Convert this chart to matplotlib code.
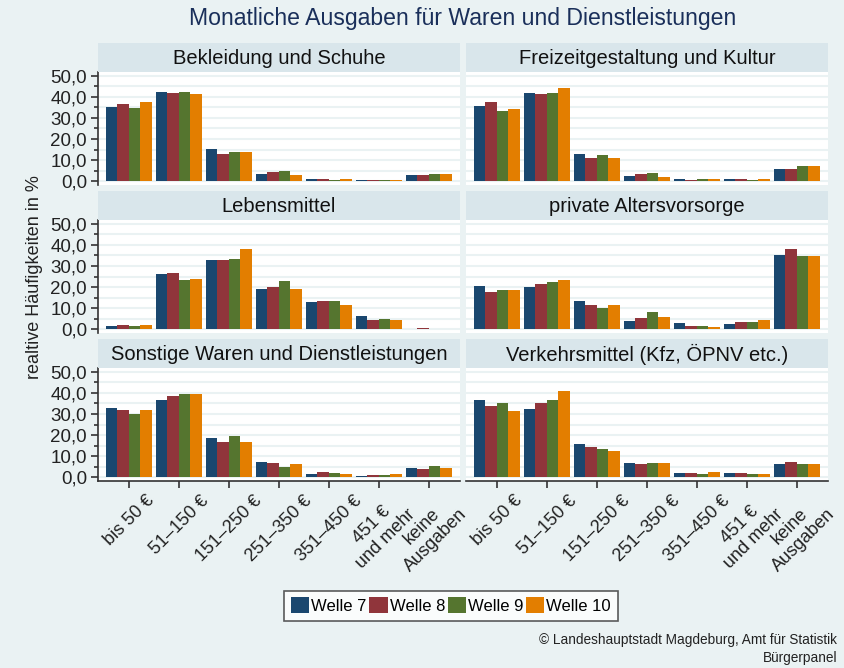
import numpy as np
import matplotlib
matplotlib.use("Agg")
import matplotlib.pyplot as plt
from matplotlib.patches import Patch

plt.rcParams['font.family'] = ['Liberation Sans', 'DejaVu Sans']

# Daten (relative Häufigkeiten in %)
categories = ["bis 50 €", "51–150 €", "151–250 €", "251–350 €", "351–450 €",
              "451 €\nund mehr", "keine\nAusgaben"]
waves = ["Welle 7", "Welle 8", "Welle 9", "Welle 10"]

bekleidung = [[35.2, 42.4, 15.2, 3.3, 1.0, 0.5, 2.9],
              [36.7, 41.9, 12.9, 4.3, 1.0, 0.5, 2.9],
              [34.8, 42.4, 13.8, 4.8, 0.5, 0.5, 3.3],
              [37.6, 41.4, 13.8, 2.9, 1.0, 0.5, 3.3]]
freizeit = [[35.7, 41.9, 12.9, 2.4, 1.0, 1.0, 5.7],
            [37.6, 41.4, 11.0, 3.3, 0.5, 1.0, 5.7],
            [33.3, 41.9, 12.4, 3.8, 1.0, 0.5, 7.1],
            [34.3, 44.3, 11.0, 1.9, 1.0, 1.0, 7.1]]
lebensmittel = [[1.6, 26.1, 32.9, 18.9, 12.7, 6.4, 0.2],
                [2.1, 26.6, 32.9, 19.9, 13.1, 4.5, 0.6],
                [1.6, 23.2, 33.3, 22.8, 13.1, 5.0, 0.2],
                [2.1, 23.7, 38.1, 18.9, 11.2, 4.5, 0.2]]
altersvorsorge = [[20.4, 19.9, 13.1, 4.0, 3.0, 2.6, 35.3],
                  [17.5, 21.3, 11.2, 5.4, 1.6, 3.5, 38.1],
                  [18.4, 22.3, 9.8, 7.9, 1.6, 3.5, 34.8],
                  [18.4, 23.2, 11.2, 5.9, 1.1, 4.5, 34.8]]
sonstige = [[32.9, 36.8, 18.4, 7.3, 1.5, 0.5, 4.4],
            [31.9, 38.7, 16.9, 6.8, 2.4, 1.0, 3.9],
            [30.0, 39.7, 19.4, 4.8, 1.9, 1.0, 5.3],
            [31.9, 39.7, 16.5, 6.3, 1.5, 1.5, 4.4]]
verkehr = [[36.8, 32.4, 15.5, 6.8, 1.9, 1.9, 6.3],
           [33.9, 35.3, 14.5, 6.3, 1.9, 1.9, 7.3],
           [35.3, 36.8, 13.5, 6.8, 1.5, 1.5, 6.3],
           [31.5, 41.1, 12.6, 6.8, 2.4, 1.5, 6.3]]

panels = [("Bekleidung und Schuhe", bekleidung),
          ("Freizeitgestaltung und Kultur", freizeit),
          ("Lebensmittel", lebensmittel),
          ("private Altersvorsorge", altersvorsorge),
          ("Sonstige Waren und Dienstleistungen", sonstige),
          ("Verkehrsmittel (Kfz, ÖPNV etc.)", verkehr)]

colors = ["#1a476f", "#90353b", "#55752f", "#e37e00"]
bg = "#eaf2f3"
strip_bg = "#d9e6eb"

W, H = 845, 668
fig = plt.figure(figsize=(W / 100, H / 100), dpi=100, facecolor=bg)

def box(x0, y0, x1, y1):
    return [x0 / W, 1 - y1 / H, (x1 - x0) / W, (y1 - y0) / H]

cols = [(98, 460), (466, 828)]
rows = [(72, 185), (220, 333), (368, 481)]
x = np.arange(len(categories))
bw = 0.23

for k, (name, vals) in enumerate(panels):
    r, c = divmod(k, 2)
    x0, x1 = cols[c]
    y0, y1 = rows[r]
    ax = fig.add_axes(box(x0, y0, x1, y1))
    ax.set_facecolor("white")
    for j, v in enumerate(vals):
        ax.bar(x + (j - 1.5) * bw, v, width=bw, color=colors[j], linewidth=0, zorder=3)
    ax.set_xlim(-0.62, 6.62)
    ax.set_ylim(-1.9, 51.9)
    ax.set_yticks(np.arange(0, 51, 10))
    ax.set_yticks(np.arange(0, 51, 5), minor=True)
    ax.grid(True, which="both", axis="y", color=bg, linewidth=1.5, zorder=0)
    for s in ["top", "right"]:
        ax.spines[s].set_visible(False)
    ax.spines["left"].set_color("#333333")
    ax.spines["bottom"].set_color("#333333")
    ax.spines["left"].set_linewidth(1.2)
    ax.spines["bottom"].set_linewidth(1.2)
    if c == 0:
        ax.set_yticklabels([f"{t:.1f}".replace(".", ",") for t in range(0, 51, 10)],
                           fontsize=13.5, color="#222222")
        ax.tick_params(axis="y", which="major", length=5, width=1.2, color="#333333", pad=3)
        ax.tick_params(axis="y", which="minor", length=3, width=1.2, color="#333333")
    else:
        ax.spines["left"].set_visible(False)
        ax.tick_params(axis="y", which="both", length=0, labelleft=False)
    if r == 2:
        ax.set_xticks(x)
        ax.set_xticklabels(categories, rotation=45, ha="center", va="top",
                           multialignment="center", fontsize=13, color="#222222")
        ax.tick_params(axis="x", length=5, width=1.2, color="#333333", pad=3)
    else:
        ax.spines["bottom"].set_visible(False)
        ax.set_xticks([])

    # Streifen mit Panel-Titel
    sx = fig.add_axes(box(x0, y0 - 29, x1, y0))
    sx.set_facecolor(strip_bg)
    sx.set_xticks([])
    sx.set_yticks([])
    for s in sx.spines.values():
        s.set_visible(False)
    sx.text(0.5, 0.45, name, ha="center", va="center", fontsize=14.5,
            color="#111111", transform=sx.transAxes)

fig.text(463 / W, 1 - 19 / H, "Monatliche Ausgaben für Waren und Dienstleistungen",
         ha="center", va="center", fontsize=16.6, color="#1a2f5a")
fig.text(35 / W, 1 - 277 / H, "realtive Häufigkeiten in %", rotation=90,
         ha="center", va="center", fontsize=13, color="#222222")

handles = [Patch(facecolor=colors[j], edgecolor="none", label=waves[j]) for j in range(4)]
leg = fig.legend(handles=handles, loc="center", bbox_to_anchor=(451 / W, 1 - 605.5 / H),
                 ncol=4, fontsize=12, frameon=True, fancybox=False, handlelength=1.1,
                 handleheight=1.1, handletextpad=0.12, columnspacing=0.15,
                 borderpad=0.4, borderaxespad=0)
leg.get_frame().set_edgecolor("#333333")
leg.get_frame().set_linewidth(1.2)
leg.get_frame().set_facecolor("white")

fig.text(837 / W, 1 - 640 / H, "© Landeshauptstadt Magdeburg, Amt für Statistik",
         ha="right", va="center", fontsize=9.8, color="#222222")
fig.text(837 / W, 1 - 658 / H, "Bürgerpanel",
         ha="right", va="center", fontsize=9.8, color="#222222")

fig.savefig("out.png", dpi=100, facecolor=bg)
